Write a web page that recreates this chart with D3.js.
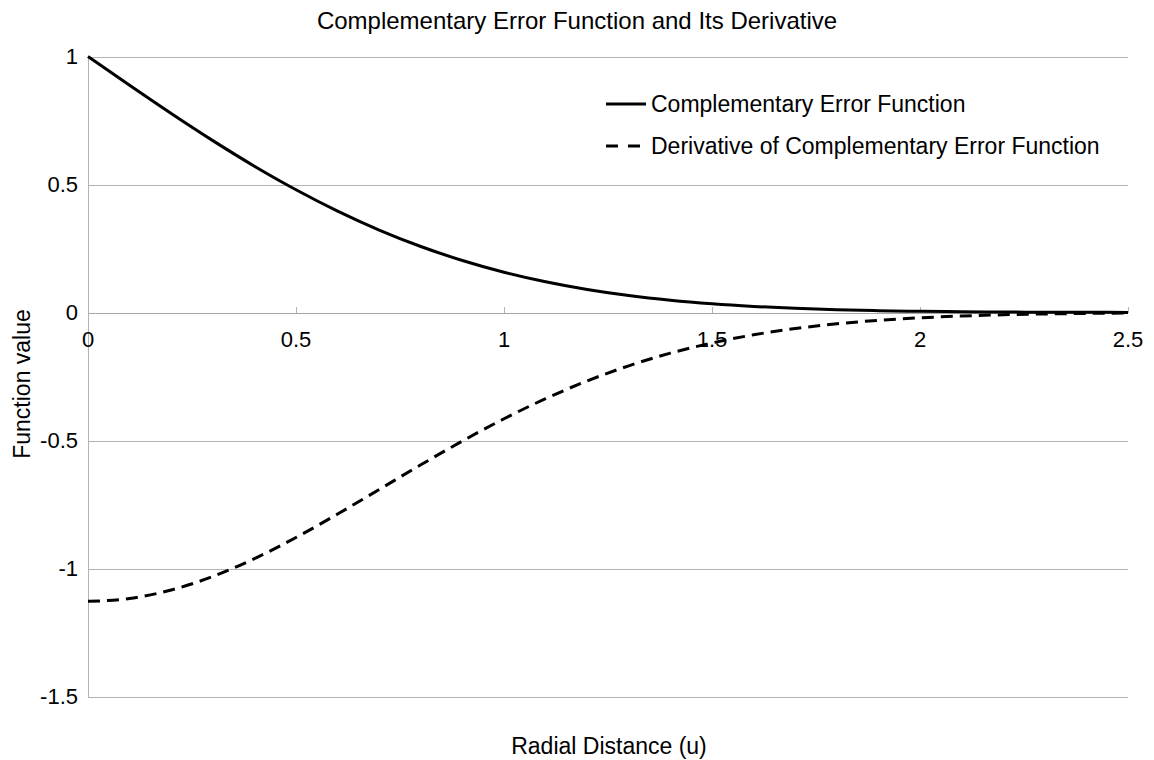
<!DOCTYPE html>
<html><head><meta charset="utf-8">
<script src="https://cdn.jsdelivr.net/npm/d3@7"></script>
<style>body{margin:0;background:#fff}svg{font-family:"Liberation Sans",Arial,sans-serif}</style>
</head><body><svg id="c" width="1154" height="760"></svg>
<script>
const uValues = [0,0.1,0.2,0.3,0.4,0.5,0.6,0.7,0.8,0.9,1.0,1.1,1.2,1.3,1.4,1.5,1.6,1.7,1.8,1.9,2.0,2.1,2.2,2.3,2.4,2.5];
const erfcValues = [1,0.8875,0.7773,0.6714,0.5716,0.4795,0.3961,0.3222,0.2579,0.2031,0.1573,0.1198,0.0897,0.0660,0.0477,0.0339,0.0237,0.0162,0.0109,0.0072,0.0047,0.0030,0.0019,0.0011,0.0007,0.0004];
const derivValues = [-1.1284,-1.1172,-1.0841,-1.0313,-0.9615,-0.8788,-0.7872,-0.6913,-0.5950,-0.5020,-0.4151,-0.3365,-0.2673,-0.2082,-0.1589,-0.1189,-0.0872,-0.0627,-0.0442,-0.0305,-0.0207,-0.0137,-0.0089,-0.0057,-0.0035,-0.0022];
const xTicks = [0,0.5,1,1.5,2,2.5];
const yTicks = [1,0.5,0,-0.5,-1,-1.5];
const seriesNames = ["Complementary Error Function","Derivative of Complementary Error Function"];
const titleText = "Complementary Error Function and Its Derivative";
const xTitle = "Radial Distance (u)";
const yTitle = "Function value";

const svg = d3.select("#c");
const x = d3.scaleLinear().domain([0,2.5]).range([88,1128]);
const y = d3.scaleLinear().domain([-1.5,1]).range([696.5,56.5]);

svg.append("g").selectAll("line").data(yTicks).join("line")
  .attr("x1",x(0)).attr("x2",x(2.5)).attr("y1",d=>Math.round(y(d))+0.5).attr("y2",d=>Math.round(y(d))+0.5)
  .attr("stroke",d=>d===0?"#a6a6a6":"#b3b3b3").attr("stroke-width",1).attr("shape-rendering","crispEdges");
svg.append("line").attr("x1",x(0)+0.5).attr("x2",x(0)+0.5).attr("y1",y(1)).attr("y2",y(-1.5)+1)
  .attr("stroke","#b3b3b3").attr("shape-rendering","crispEdges");
svg.append("g").selectAll("line").data(xTicks).join("line")
  .attr("x1",d=>Math.round(x(d))+0.5).attr("x2",d=>Math.round(x(d))+0.5)
  .attr("y1",Math.round(y(0))-6).attr("y2",Math.round(y(0)))
  .attr("stroke","#b3b3b3").attr("shape-rendering","crispEdges");

svg.append("g").selectAll("text").data(yTicks).join("text")
  .attr("x",78).attr("y",d=>y(d)).attr("dy","0.35em").attr("text-anchor","end")
  .attr("font-size",22).attr("fill","#000").text(d=>String(d));
svg.append("g").selectAll("text").data(xTicks).join("text")
  .attr("x",d=>x(d)).attr("y",y(0)+27).attr("dy","0.35em").attr("text-anchor","middle")
  .attr("font-size",22).attr("fill","#000").text(d=>String(d));

const line = d3.line().x((d,i)=>x(uValues[i])).y(d=>y(d)).curve(d3.curveMonotoneX);
svg.append("path").datum(erfcValues).attr("d",line).attr("fill","none")
  .attr("stroke","#000").attr("stroke-width",3);
svg.append("path").datum(derivValues).attr("d",line).attr("fill","none")
  .attr("stroke","#000").attr("stroke-width",3).attr("stroke-dasharray","12,7");

svg.append("text").attr("x",577).attr("y",21).attr("dy","0.35em").attr("text-anchor","middle")
  .attr("font-size",24).text(titleText);
svg.append("text").attr("x",609).attr("y",746).attr("dy","0.35em").attr("text-anchor","middle")
  .attr("font-size",23).text(xTitle);
svg.append("text").attr("transform","translate(22,384) rotate(-90)").attr("dy","0.35em").attr("text-anchor","middle")
  .attr("font-size",23).text(yTitle);

const leg = svg.append("g");
const legY = [104,146];
seriesNames.forEach((n,i)=>{
  leg.append("line").attr("x1",606).attr("x2",646).attr("y1",legY[i]).attr("y2",legY[i])
    .attr("stroke","#000").attr("stroke-width",3).attr("stroke-dasharray",i===1?"12,10":null);
  leg.append("text").attr("x",651).attr("y",legY[i]).attr("dy","0.35em").attr("font-size",23).text(n);
});
</script></body></html>
